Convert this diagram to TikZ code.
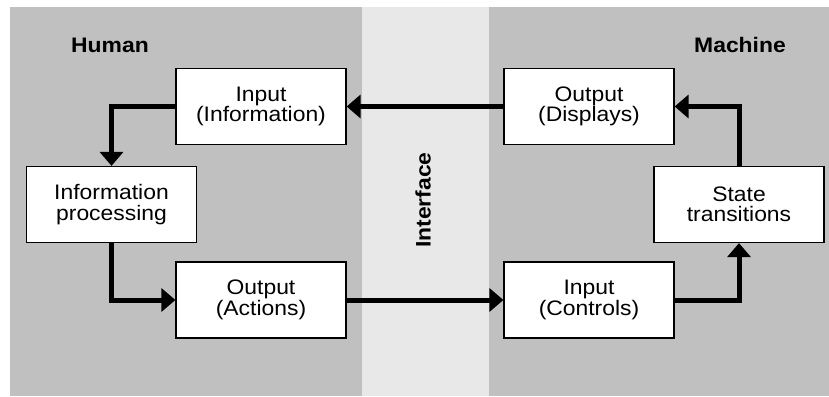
\documentclass[tikz,border=0pt]{standalone}
\usepackage{fontspec}
\setmainfont{Liberation Sans}[FakeStretch=1.09]
\usetikzlibrary{arrows.meta}
\definecolor{zonegray}{RGB}{192,192,192}
\definecolor{ifacegray}{RGB}{232,232,232}
\begin{document}
\begin{tikzpicture}[x=1pt,y=-1pt,
  box/.style={draw=black, line width=1.2pt, fill=white, minimum width=170pt,
    minimum height=76pt, align=center, inner sep=0pt,
    font=\fontsize{21}{20.5}\selectfont},
  flow/.style={line width=5pt, -{Triangle[length=14pt,width=23pt]}},
  zone/.style={font=\bfseries\fontsize{21}{24}\selectfont}]

\useasboundingbox (0,0) rectangle (829,396);

% the three zones
\fill[zonegray]  (10,7)  rectangle (362,396);
\fill[ifacegray] (362,7) rectangle (489,396);
\fill[zonegray]  (489,7) rectangle (829,396);

\node[zone] (human)   at (110,45) {Human};
\node[zone] (machine) at (740,45) {Machine};
\node[zone, rotate=90] (iface) at (423,200) {Interface};

% human side
\node[box] (inInfo) at (261,106.5) {Input\\(Information)};
\node[box] (proc)   at (111.5,204.5) {Information\\processing};
\node[box] (outAct) at (261,300) {Output\\(Actions)};

% machine side
\node[box] (outDisp) at (589,106.5) {Output\\(Displays)};
\node[box] (state)   at (739,204.5) {State\\transitions};
\node[box] (inCtrl)  at (589,300) {Input\\(Controls)};

% the loop
\draw[flow] (inInfo.west) -| (proc.north);
\draw[flow] (proc.south) |- (outAct.west);
\draw[flow] (outAct.east) -- (inCtrl.west);
\draw[flow] (inCtrl.east) -| (state.south);
\draw[flow] (state.north) |- (outDisp.east);
\draw[flow] (outDisp.west) -- (inInfo.east);
\end{tikzpicture}
\end{document}
